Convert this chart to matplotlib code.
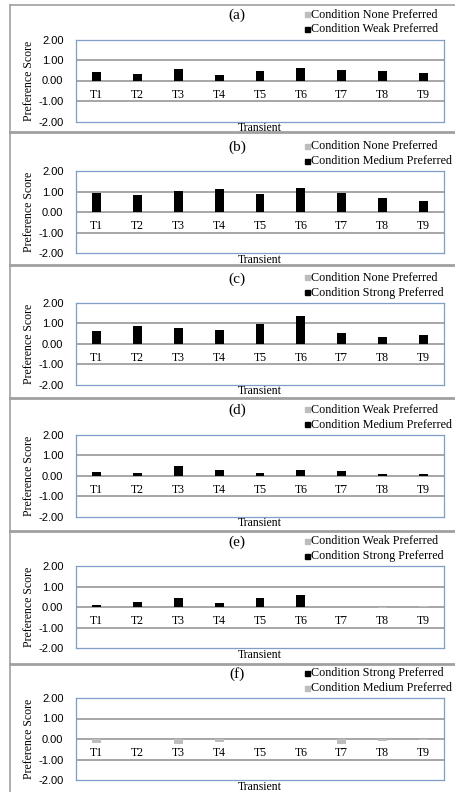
import numpy as np
import matplotlib.pyplot as plt
import matplotlib.transforms as mtransforms
from matplotlib.patches import Rectangle
from matplotlib.lines import Line2D

# data
transients = ['T1', 'T2', 'T3', 'T4', 'T5', 'T6', 'T7', 'T8', 'T9']
panel_tags = ['(a)', '(b)', '(c)', '(d)', '(e)', '(f)']
legend_rows = [
    ('Condition None Preferred', 'Condition Weak Preferred'),
    ('Condition None Preferred', 'Condition Medium Preferred'),
    ('Condition None Preferred', 'Condition Strong Preferred'),
    ('Condition Weak Preferred', 'Condition Medium Preferred'),
    ('Condition Weak Preferred', 'Condition Strong Preferred'),
    ('Condition Strong Preferred', 'Condition Medium Preferred'),
]
# colour of the legend square in each row (True = gray)
legend_gray_first = [True, True, True, True, True, False]

black_a = [0.41, 0.33, 0.54, 0.26, 0.45, 0.62, 0.52, 0.46, 0.36]
black_b = [0.93, 0.83, 1.05, 1.14, 0.90, 1.19, 0.93, 0.70, 0.56]
black_c = [0.65, 0.87, 0.79, 0.69, 0.95, 1.34, 0.52, 0.32, 0.42]
black_d = [0.18, 0.11, 0.45, 0.26, 0.11, 0.29, 0.21, 0.10, 0.10]
black_e = [0.13, 0.25, 0.46, 0.21, 0.43, 0.59, 0.00, 0.00, 0.00]
black_f = [0, 0, 0, 0, 0, 0, 0, 0, 0]

gray_a = [0, 0, 0, 0, 0, 0, 0, 0, 0]
gray_b = [0, 0, 0, 0, 0, 0, 0, 0, 0]
gray_c = [0, 0, 0, 0, 0, 0, 0, 0, 0]
gray_d = [0, 0, 0, 0, 0, 0, 0, 0, 0]
gray_e = [0, 0, 0, 0, 0, 0, 0, -0.03, 0.04]
gray_f = [-0.20, 0.00, -0.25, -0.16, -0.02, 0.00, -0.23, -0.08, -0.03]

black_vals = [black_a, black_b, black_c, black_d, black_e, black_f]
gray_vals = [gray_a, gray_b, gray_c, gray_d, gray_e, gray_f]

serif = 'Liberation Serif'
sans = 'Liberation Sans'
GRAY = '#bdbdbd'
BLUE = '#7f9fc8'
GRID = '#a6a6a6'
FRAME = '#a0a0a0'

W, H = 456, 792
fig = plt.figure(figsize=(W / 100, H / 100), dpi=100)
fig.patch.set_facecolor('white')

def fx(px):
    return px / W

def fy(py):
    return 1 - py / H

# outer chart frames
fig.add_artist(Line2D([fx(10), fx(10)], [fy(5), fy(792)], color=FRAME, lw=1.2))
fig.add_artist(Line2D([fx(10), fx(456)], [fy(5), fy(5)], color=FRAME, lw=1.2))
for sep in [131.7, 265, 398, 531, 664]:
    fig.add_artist(Line2D([fx(10), fx(456)], [fy(sep), fy(sep)], color=FRAME, lw=2))

left, width, height = 76, 368, 82
x = np.arange(len(transients))

for i in range(6):
    top = 39.5 + 131.7 * i
    ax = fig.add_axes([fx(left), fy(top + height), width / W, height / H])
    ax.bar(x, gray_vals[i], width=0.22, color=GRAY, zorder=3)
    ax.bar(x, black_vals[i], width=0.22, color='black', zorder=3)
    ax.set_xlim(-0.5, 8.5)
    ax.set_ylim(-2, 2)
    ax.set_yticks([2, 1, 0, -1, -2])
    ax.set_yticklabels(['%.2f' % v for v in [2, 1, 0, -1, -2]], family=sans, fontsize=8)
    ax.tick_params(axis='y', length=0, pad=9)
    ax.set_xticks([])
    for yv in [1, 0, -1]:
        ax.axhline(yv, color=GRID, lw=1.4, zorder=1)
    for sp in ax.spines.values():
        sp.set_color(BLUE)
        sp.set_linewidth(0.9)

    # category labels just under the zero line
    off = mtransforms.offset_copy(ax.transData, fig=fig, y=-14, units='dots')
    for xi, name in zip(x, transients):
        ax.text(xi, 0, name, transform=off, ha='center', va='center',
                family=serif, fontsize=8.5)

    fig.text(fx(29), fy(top + height / 2), 'Preference Score', rotation=90,
             ha='center', va='center', family=serif, fontsize=8.5)
    fig.text(fx(237), fy(top - 24), panel_tags[i], ha='center', va='center',
             family=serif, fontsize=11)
    fig.text(fx(left + width / 2), fy(top + height + 6.5), 'Transient',
             ha='center', va='center', family=serif, fontsize=8.5)

    # legend
    first_gray = legend_gray_first[i]
    row_colors = [GRAY, 'black'] if first_gray else ['black', GRAY]
    for r, (lab, col) in enumerate(zip(legend_rows[i], row_colors)):
        yc = top - 25 + 15 * r
        fig.add_artist(Rectangle((fx(305), fy(yc + 2.5)), 4.5 / W, 5 / H,
                                 transform=fig.transFigure, color=col))
        fig.text(fx(311), fy(yc), lab, ha='left', va='center',
                 family=serif, fontsize=8.7)

fig.savefig('out.png', dpi=100, facecolor='white')
